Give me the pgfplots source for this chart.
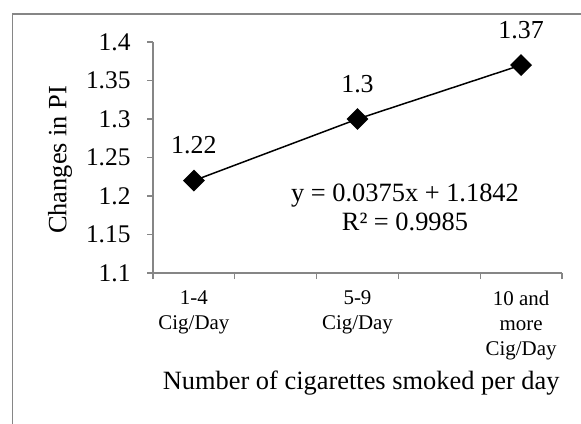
\documentclass[border=0pt]{standalone}
\usepackage{pgfplots}
\pgfplotsset{compat=1.18}
\usepackage{fontspec}
\setmainfont{Liberation Serif}
\definecolor{axgray}{RGB}{134,134,134}
\begin{document}
\begin{tikzpicture}
\path[use as bounding box] (0,0) rectangle (581bp,-424bp);
\clip (0,0) rectangle (581bp,-424bp);
\draw[axgray, line width=1.2bp] (12.7bp,-14bp) rectangle (600bp,-450bp);
\begin{axis}[
  at={(153bp,-273bp)}, anchor=south west,
  scale only axis, width=409bp, height=231bp,
  xmin=0.5, xmax=5.5, ymin=1.1, ymax=1.4,
  axis x line*=bottom, axis y line*=left,
  axis line style={axgray, line width=1.2bp, -},
  xtick={0.5,1.5,2.5,3.5,4.5,5.5}, xticklabels={},
  ytick={1.1,1.15,1.2,1.25,1.3,1.35,1.4},
  tick align=outside, major tick length=6bp,
  tick style={axgray, line width=1.2bp},
  /pgf/number format/assume math mode=true,
  yticklabel style={font=\fontsize{25.5}{29}\selectfont, /pgf/number format/fixed, /pgf/number format/precision=2, xshift=-13bp},
  extra x ticks={1,3,5},
  extra x tick labels={{1-4\\Cig/Day},{5-9\\Cig/Day},{10 and\\more\\Cig/Day}},
  extra x tick style={major tick length=0pt, tick label style={align=center, font=\fontsize{21}{25.5}\selectfont, anchor=north, yshift=-14bp}},
  clip=false,
  ylabel={Changes in PI},
  ylabel style={at={(rel axis cs:-0.2274,0.49)}, anchor=center, font=\fontsize{26.5}{30}\selectfont},
  xlabel={Number of cigarettes smoked per day},
  xlabel style={at={(rel axis cs:0.509,-0.476)}, anchor=center, font=\fontsize{26.5}{30}\selectfont},
]
\addplot[black, line width=1.5bp, mark=square*, mark size=7bp,
  mark options={rotate=45, solid, fill=black},
  nodes near coords={\pgfmathprintnumber[fixed,precision=2,assume math mode=true]{\pgfplotspointmeta}},
  every node near coord/.append style={font=\fontsize{26}{30}\selectfont, anchor=center, yshift=35bp, black}]
  coordinates {(1,1.22) (3,1.3) (5,1.37)};
\end{axis}
\node[font=\fontsize{26.5}{29}\selectfont, align=center] at (405bp,-207bp) {y = 0.0375x + 1.1842\\R² = 0.9985};
\end{tikzpicture}
\end{document}
